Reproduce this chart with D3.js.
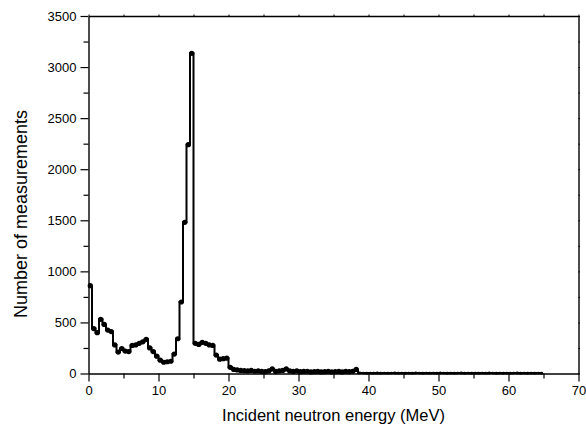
<!DOCTYPE html>
<html>
<head>
<meta charset="utf-8">
<script src="https://cdn.jsdelivr.net/npm/d3@7"></script>
<style>
  html, body { margin: 0; padding: 0; background: #fff; }
  svg { display: block; }
  text { font-family: Arial, "Liberation Sans", sans-serif; fill: #000; }
</style>
</head>
<body>
<svg id="chart" width="586" height="433"></svg>
<script>
// ---- data ----
const energies = [
  0.25, 0.75, 1.25, 1.75, 2.25, 2.75, 3.25, 3.75, 4.25, 4.75,
  5.25, 5.75, 6.25, 6.75, 7.25, 7.75, 8.25, 8.75, 9.25, 9.75,
  10.25, 10.75, 11.25, 11.75, 12.25, 12.75, 13.25, 13.75, 14.25, 14.75,
  15.25, 15.75, 16.25, 16.75, 17.25, 17.75, 18.25, 18.75, 19.25, 19.75,
  20.25, 20.75, 21.25, 21.75, 22.25, 22.75, 23.25, 23.75, 24.25, 24.75,
  25.25, 25.75, 26.25, 26.75, 27.25, 27.75, 28.25, 28.75, 29.25, 29.75,
  30.25, 30.75, 31.25, 31.75, 32.25, 32.75, 33.25, 33.75, 34.25, 34.75,
  35.25, 35.75, 36.25, 36.75, 37.25, 37.75, 38.25, 38.75, 39.25, 39.75,
  40.25, 40.75, 41.25, 41.75, 42.25, 42.75, 43.25, 43.75, 44.25, 44.75,
  45.25, 45.75, 46.25, 46.75, 47.25, 47.75, 48.25, 48.75, 49.25, 49.75,
  50.25, 50.75, 51.25, 51.75, 52.25, 52.75, 53.25, 53.75, 54.25, 54.75,
  55.25, 55.75, 56.25, 56.75, 57.25, 57.75, 58.25, 58.75, 59.25, 59.75,
  60.25, 60.75, 61.25, 61.75, 62.25, 62.75, 63.25, 63.75, 64.25, 64.75
];
const counts = [
  860, 440, 400, 530, 480, 425, 410, 280, 210, 245,
  220, 215, 275, 280, 295, 310, 335, 250, 215, 170,
  130, 110, 115, 120, 190, 340, 700, 1480, 2240, 3135,
  295, 285, 305, 295, 280, 275, 180, 140, 145, 150,
  60, 40, 35, 30, 28, 25, 30, 22, 25, 20,
  18, 25, 45, 20, 25, 30, 45, 25, 20, 25,
  18, 20, 22, 15, 18, 20, 15, 18, 20, 15,
  18, 20, 15, 20, 18, 22, 40, 5, 4, 3,
  4, 3, 5, 3, 4, 3, 4, 5, 3, 4,
  3, 4, 3, 5, 4, 3, 4, 3, 4, 3,
  5, 4, 3, 4, 3, 4, 5, 3, 4, 3,
  4, 3, 4, 3, 5, 4, 3, 4, 3, 4,
  3, 4, 5, 3, 4, 3, 4, 3, 4, 3
];
const xTickValues = [0, 10, 20, 30, 40, 50, 60, 70];
const yTickValues = [0, 500, 1000, 1500, 2000, 2500, 3000, 3500];
const xMinorTicks = [5, 15, 25, 35, 45, 55, 65];
const yMinorTicks = [250, 750, 1250, 1750, 2250, 2750, 3250];
const xLabel = "Incident neutron energy (MeV)";
const yLabel = "Number of measurements";

// ---- layout ----
const mLeft = 88.5, mRight = 578.5, mTop = 16, mBottom = 373.5;
const svg = d3.select("#chart");
const x = d3.scaleLinear().domain([0, 70]).range([mLeft, mRight]);
const y = d3.scaleLinear().domain([0, 3500]).range([mBottom, mTop]);

const data = energies.map((e, i) => ({ e, c: counts[i] }));

// data line (step centered on each point)
const line = d3.line().x(d => x(d.e)).y(d => y(d.c)).curve(d3.curveStep);
svg.append("path")
  .datum(data)
  .attr("d", line)
  .attr("fill", "none")
  .attr("stroke", "#000")
  .attr("stroke-width", 2)
  .attr("stroke-linejoin", "miter");

// symbols
svg.append("g").selectAll("circle")
  .data(data)
  .join("circle")
  .attr("cx", d => x(d.e))
  .attr("cy", d => y(d.c))
  .attr("r", d => d.c < 8 ? 1.4 : 2.6)
  .attr("fill", "#000");

// axes
const axisStyle = g => {
  g.select(".domain").attr("stroke-width", 1.4);
  g.selectAll(".tick line").attr("stroke-width", 1.2);
  g.selectAll(".tick text").style("font-size", "13px").style("font-family", "Arial, 'Liberation Sans', sans-serif");
};

svg.append("g")
  .attr("transform", `translate(0,${mBottom})`)
  .call(d3.axisBottom(x).tickValues(xTickValues).tickSize(8).tickSizeOuter(0).tickPadding(4).tickFormat(d3.format("d")))
  .call(axisStyle);
svg.append("g")
  .attr("transform", `translate(0,${mBottom})`)
  .call(d3.axisBottom(x).tickValues(xMinorTicks).tickSize(5).tickSizeOuter(0).tickFormat(""))
  .call(g => g.select(".domain").remove())
  .call(g => g.selectAll(".tick line").attr("stroke-width", 1.2));

svg.append("g")
  .attr("transform", `translate(${mLeft},0)`)
  .call(d3.axisLeft(y).tickValues(yTickValues).tickSize(8).tickSizeOuter(0).tickPadding(4).tickFormat(d3.format("d")))
  .call(axisStyle);
svg.append("g")
  .attr("transform", `translate(${mLeft},0)`)
  .call(d3.axisLeft(y).tickValues(yMinorTicks).tickSize(5).tickSizeOuter(0).tickFormat(""))
  .call(g => g.select(".domain").remove())
  .call(g => g.selectAll(".tick line").attr("stroke-width", 1.2));

// top and right axes (mirror, tiny ticks)
svg.append("g")
  .attr("transform", `translate(0,${mTop})`)
  .call(d3.axisTop(x).tickValues(xTickValues.concat(xMinorTicks)).tickSize(1.5).tickSizeOuter(0).tickFormat(""))
  .call(g => g.select(".domain").attr("stroke-width", 1.4))
  .call(g => g.selectAll(".tick line").attr("stroke-width", 1));
svg.append("g")
  .attr("transform", `translate(${mRight},0)`)
  .call(d3.axisRight(y).tickValues(yTickValues.concat(yMinorTicks)).tickSize(1.5).tickSizeOuter(0).tickFormat(""))
  .call(g => g.select(".domain").attr("stroke-width", 1.4))
  .call(g => g.selectAll(".tick line").attr("stroke-width", 1));

// axis titles
svg.append("text")
  .attr("x", (mLeft + mRight) / 2)
  .attr("y", 421)
  .attr("text-anchor", "middle")
  .style("font-size", "16.5px")
  .text(xLabel);
svg.append("text")
  .attr("transform", `translate(27,214) rotate(-90)`)
  .attr("text-anchor", "middle")
  .style("font-size", "18px")
  .text(yLabel);
</script>
</body>
</html>
